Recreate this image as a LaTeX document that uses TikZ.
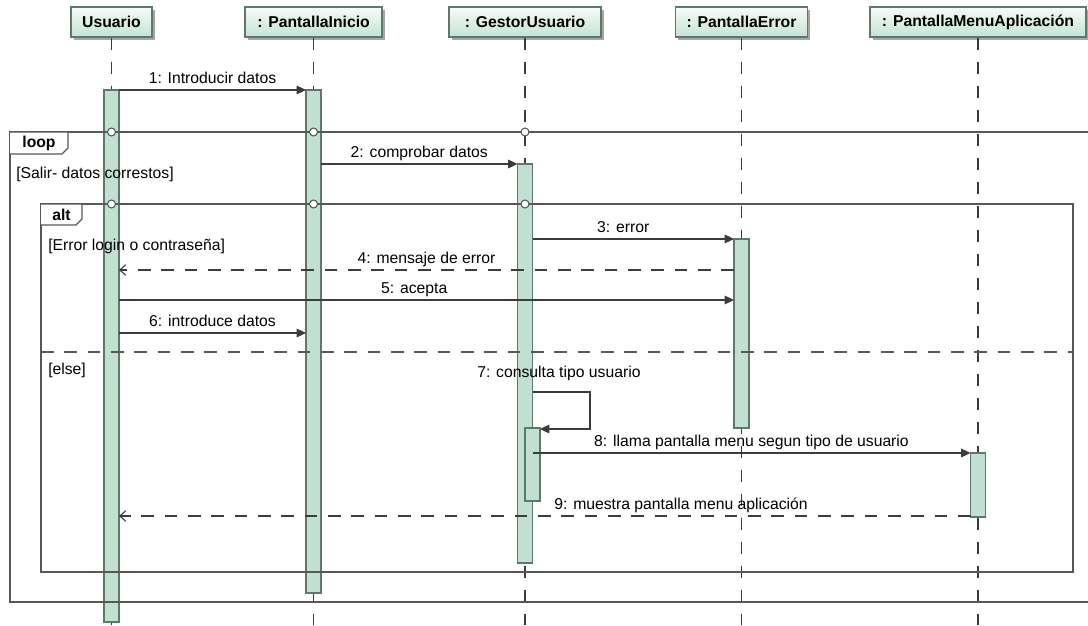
\documentclass[tikz,border=0pt]{standalone}
\usepackage{fontspec}
\setmainfont{Liberation Sans}
\usetikzlibrary{arrows.meta,shadows}

\definecolor{barfill}{RGB}{194,224,209}
\definecolor{barline}{RGB}{95,120,108}
\definecolor{headtop}{RGB}{246,251,248}
\definecolor{headbot}{RGB}{196,227,211}
\definecolor{ink}{RGB}{60,60,60}
\definecolor{framec}{RGB}{88,88,88}

\tikzset{
  header/.style={draw=barline, line width=0.9pt, top color=headtop, bottom color=headbot,
    minimum height=22.5pt, inner sep=0pt, text=black,
    font=\fontsize{11.8}{14}\selectfont\bfseries,
    drop shadow={shadow xshift=2.2pt, shadow yshift=-2.2pt, fill=black!35, opacity=1}},
  lifeline/.style={draw=ink, line width=0.8pt, dash pattern=on 9pt off 9pt},
  bar/.style={draw=barline, fill=barfill, line width=0.8pt, minimum width=11.25pt,
    inner sep=0pt, outer sep=0pt},
  msg/.style={draw=ink, line width=0.8pt, -{Triangle[length=7pt,width=6.5pt]}},
  reply/.style={draw=ink, line width=0.8pt, dash pattern=on 9.5pt off 8pt,
    -{Straight Barb[length=4.5pt,width=8pt]}},
  lbl/.style={font=\fontsize{11.8}{14}\selectfont, anchor=base, yshift=5pt,
    inner sep=0pt, text=black},
  guard/.style={font=\fontsize{11.8}{14}\selectfont, anchor=base west, inner sep=0pt},
  frame/.style={draw=framec, line width=0.9pt},
  sepline/.style={draw=framec, line width=0.8pt, dash pattern=on 9.5pt off 8pt},
  tagtext/.style={font=\fontsize{11.8}{14}\selectfont\bfseries, inner sep=0pt},
  gate/.style={circle, draw=framec, fill=white, line width=0.8pt, minimum size=6pt,
    inner sep=0pt},
}

\begin{document}
\begin{tikzpicture}[x=0.75pt,y=-0.75pt]
\useasboundingbox (0,0) rectangle (1088,625);
\clip (0,0) rectangle (1088,625);
\fill[white] (0,0) rectangle (1088,625);

% participants
\node[header, minimum width=60.75pt]  (hU) at (111.5,22) {Usuario};
\node[header, minimum width=102.75pt] (hI) at (313.5,22) {: PantallaInicio};
\node[header, minimum width=114pt]    (hG) at (525,22)   {: GestorUsuario};
\node[header, minimum width=99pt]     (hE) at (741.5,22) {: PantallaError};
\node[header, minimum width=162pt]    (hM) at (978,22)   {: PantallaMenuAplicación};

% lifelines
\foreach \h in {hU,hI,hG,hE,hM}
  \draw[lifeline] (\h.south) -- (\h.south |- 0,625);

% activation bars
\node[bar, minimum height=399pt]    (bU)  at (hU.center |- 0,356)   {};
\node[bar, minimum height=377.25pt] (bI)  at (hI.center |- 0,341.5) {};
\node[bar, minimum height=299.25pt] (bG)  at (hG.center |- 0,363.5) {};
\node[bar, minimum height=141.75pt] (bE)  at (hE.center |- 0,333.5) {};
\node[bar, minimum height=48pt]     (bM)  at (hM.center |- 0,485)   {};
\node[bar, minimum height=54.75pt, anchor=north west] (bG2) at (bG.center |- 0,428) {};

% combined fragments
\draw[frame] (1095,132) -- (10,132) -- (10,602) -- (1095,602);
\draw[frame] (41,204) rectangle (1073,572);
\draw[sepline] (41,352) -- (1073,352);

\draw[frame, fill=white] (10,132) -- (68,132) -- (68,148) -- (62,154) -- (10,154);
\node[tagtext] (tloop) at (39,143) {loop};
\draw[frame, fill=white] (41,204) -- (82,204) -- (82,219) -- (76,225) -- (41,225);
\node[tagtext] (talt) at (61.5,214.5) {alt};

\foreach \h/\n in {hU/1,hI/2,hG/3} {
  \node[gate] (gloop\n) at (\h.center |- 0,132) {};
  \node[gate] (galt\n)  at (\h.center |- 0,204) {};
}

% guards
\node[guard] (guardloop) at (16,178) {[Salir- datos correstos]};
\node[guard] (guarderr)  at (48,250) {[Error login o contraseña]};
\node[guard] (guardelse) at (48,374) {[else]};

% messages
\draw[msg] (bU.east |- 0,90) -- node[lbl]{1: Introducir datos} (bI.west |- 0,90);
\draw[msg] (bI.east |- 0,164) -- node[lbl]{2: comprobar datos} (bG.west |- 0,164);
\draw[msg] (bG.east |- 0,239) -- node[lbl, pos=0.45]{3: error} (bE.west |- 0,239);
\draw[reply] (bE.west |- 0,270) -- node[lbl]{4: mensaje de error} (bU.east |- 0,270);
\draw[msg] (bU.east |- 0,300) -- node[lbl, pos=0.48]{5: acepta} (bE.west |- 0,300);
\draw[msg] (bU.east |- 0,333) -- node[lbl]{6: introduce datos} (bI.west |- 0,333);
\draw[msg] (bG.east |- 0,392) -- (590,392) -- (590,429) -- (bG2.east |- 0,429);
\node[lbl, anchor=base west, yshift=0pt] (l7) at (477,384) {7: consulta tipo usuario};
\draw[msg] (bG2.center |- 0,453) -- node[lbl]{8: llama pantalla menu segun tipo de usuario} (bM.west |- 0,453);
\draw[reply] (bM.west |- 0,516) -- node[lbl, pos=0.34]{9: muestra pantalla menu aplicación} (bU.east |- 0,516);
\end{tikzpicture}
\end{document}
